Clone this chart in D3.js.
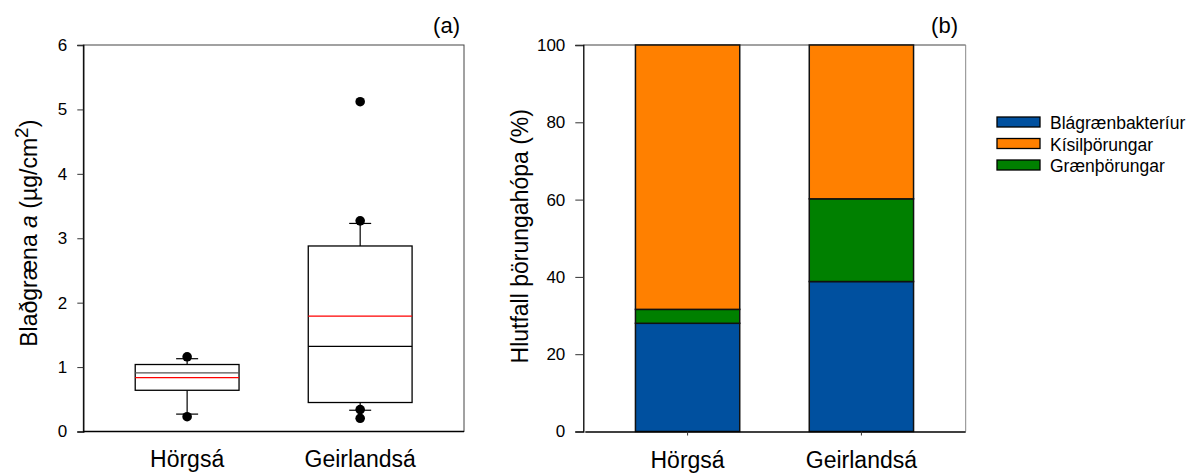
<!DOCTYPE html>
<html>
<head>
<meta charset="utf-8">
<script src="https://cdn.jsdelivr.net/npm/d3@7"></script>
<style>
  body { margin: 0; background: #fff; }
  svg { font-family: "Liberation Sans", Arial, sans-serif; }
</style>
</head>
<body>
<div id="chart"></div>
<script>
// --- Données ---
const sites = ["Hörgsá", "Geirlandsá"];

// (a) boîtes à moustaches : chlorophylle a (µg/cm2)
const boxQ1 = [0.64, 0.45];
const boxMedian = [0.91, 1.32];
const boxMean = [0.835, 1.79];
const boxQ3 = [1.04, 2.88];
const whiskerLow = [0.27, 0.33];
const whiskerHigh = [1.13, 3.23];
const outliers = [
  [1.16, 0.23],
  [5.12, 3.27, 0.34, 0.205]
];
const ticksA = [0, 1, 2, 3, 4, 5, 6];

// (b) barres empilées (%)
const groups = ["Blágrænbakteríur", "Kísilþörungar", "Grænþörungar"];
const blue = [28.0, 38.8];
const orange = [68.4, 39.8];
const green = [3.6, 21.4];
const ticksB = [0, 20, 40, 60, 80, 100];
const colors = { "Blágrænbakteríur": "#00509f", "Kísilþörungar": "#ff8000", "Grænþörungar": "#008000" };

const width = 1195, height = 474;
const svg = d3.select("#chart").append("svg")
  .attr("width", width).attr("height", height);

// ===== Panneau (a) =====
const A = { left: 83.3, right: 464, top: 45, bottom: 431.5 };
const xA = d3.scaleBand().domain(sites).range([A.left, A.right])
  .paddingInner(0.4).paddingOuter(0.3);
const yA = d3.scaleLinear().domain([0, 6]).range([A.bottom, A.top]);

const gA = svg.append("g");
// cadre
gA.append("rect")
  .attr("x", A.left).attr("y", A.top)
  .attr("width", A.right - A.left).attr("height", A.bottom - A.top)
  .attr("fill", "none").attr("stroke", "#444").attr("stroke-width", 1);

const axA = gA.append("g").attr("transform", `translate(${A.left},0)`)
  .call(d3.axisLeft(yA).tickValues(ticksA).tickSize(6).tickPadding(10).tickFormat(d3.format("d")));
axA.select(".domain").attr("stroke", "#000").attr("stroke-width", 1.3);
axA.selectAll("line").attr("stroke", "#333");
axA.selectAll("text").attr("font-size", 17).attr("fill", "#000").attr("font-family", "Liberation Sans, Arial, sans-serif");

gA.append("line")
  .attr("x1", A.left).attr("x2", A.right)
  .attr("y1", A.bottom).attr("y2", A.bottom)
  .attr("stroke", "#000").attr("stroke-width", 1.3);

sites.forEach((s, i) => {
  const x0 = xA(s), bw = xA.bandwidth(), cx = x0 + bw / 2;
  const g = gA.append("g");
  // moustaches
  g.append("line").attr("x1", cx).attr("x2", cx)
    .attr("y1", yA(boxQ3[i])).attr("y2", yA(whiskerHigh[i])).attr("stroke", "#000").attr("stroke-width", 1.2);
  g.append("line").attr("x1", cx).attr("x2", cx)
    .attr("y1", yA(boxQ1[i])).attr("y2", yA(whiskerLow[i])).attr("stroke", "#000").attr("stroke-width", 1.2);
  [whiskerHigh[i], whiskerLow[i]].forEach(v => {
    g.append("line").attr("x1", cx - 11).attr("x2", cx + 11)
      .attr("y1", yA(v)).attr("y2", yA(v)).attr("stroke", "#000").attr("stroke-width", 1.2);
  });
  // boîte
  g.append("rect").attr("x", x0).attr("width", bw)
    .attr("y", yA(boxQ3[i])).attr("height", yA(boxQ1[i]) - yA(boxQ3[i]))
    .attr("fill", "#fff").attr("stroke", "#000").attr("stroke-width", 1.3);
  // médiane
  g.append("line").attr("x1", x0).attr("x2", x0 + bw)
    .attr("y1", yA(boxMedian[i])).attr("y2", yA(boxMedian[i]))
    .attr("stroke", i === 0 ? "#555" : "#000").attr("stroke-width", 1.3);
  // moyenne
  g.append("line").attr("x1", x0).attr("x2", x0 + bw)
    .attr("y1", yA(boxMean[i])).attr("y2", yA(boxMean[i]))
    .attr("stroke", "#ff0000").attr("stroke-width", 1.2);
  // points extrêmes
  g.selectAll("circle").data(outliers[i]).enter().append("circle")
    .attr("cx", cx).attr("cy", d => yA(d)).attr("r", 4.8).attr("fill", "#000");
  // étiquette
  gA.append("text").attr("x", cx).attr("y", 466.5)
    .attr("text-anchor", "middle").attr("font-size", 23).text(s);
});

// titre axe y
const tA = gA.append("text")
  .attr("transform", `translate(37,${(A.top + A.bottom) / 2 - 5}) rotate(-90)`)
  .attr("text-anchor", "middle").attr("font-size", 23);
tA.append("tspan").text("Blaðgræna ");
tA.append("tspan").attr("font-style", "italic").text("a");
tA.append("tspan").text(" (µg/cm");
tA.append("tspan").attr("font-size", 19).attr("dy", -9).text("2");
tA.append("tspan").attr("dy", 9).text(")");

gA.append("text").attr("x", 460).attr("y", 33)
  .attr("text-anchor", "end").attr("font-size", 22).text("(a)");

// ===== Panneau (b) =====
const B = { left: 583.3, right: 965.7, top: 45, bottom: 431.5 };
const xB = d3.scaleBand().domain(sites).range([B.left, B.right])
  .paddingInner(0.4).paddingOuter(0.3);
const yB = d3.scaleLinear().domain([0, 100]).range([B.bottom, B.top]);

const gB = svg.append("g");
gB.append("line").attr("x1", B.left).attr("x2", B.right).attr("y1", B.top).attr("y2", B.top)
  .attr("stroke", "#444").attr("stroke-width", 1);
gB.append("line").attr("x1", B.right).attr("x2", B.right).attr("y1", B.top).attr("y2", B.bottom)
  .attr("stroke", "#888").attr("stroke-width", 1);

const table = sites.map((s, i) => ({
  site: s,
  "Blágrænbakteríur": blue[i],
  "Grænþörungar": green[i],
  "Kísilþörungar": orange[i]
}));
const stack = d3.stack().keys(["Blágrænbakteríur", "Grænþörungar", "Kísilþörungar"])(table);

gB.selectAll("g.layer").data(stack).enter().append("g").attr("class", "layer")
  .attr("fill", d => colors[d.key])
  .selectAll("rect").data(d => d).enter().append("rect")
  .attr("x", d => xB(d.data.site)).attr("width", xB.bandwidth())
  .attr("y", d => yB(d[1])).attr("height", d => yB(d[0]) - yB(d[1]))
  .attr("stroke", "#111").attr("stroke-width", 1.5);

const axB = gB.append("g").attr("transform", `translate(${B.left},0)`)
  .call(d3.axisLeft(yB).tickValues(ticksB).tickSize(8).tickPadding(10));
axB.select(".domain").attr("stroke", "#000").attr("stroke-width", 1.3);
axB.selectAll("line").attr("stroke", "#333");
axB.selectAll("text").attr("font-size", 17).attr("fill", "#000").attr("font-family", "Liberation Sans, Arial, sans-serif");

const axBx = gB.append("g").attr("transform", `translate(0,${B.bottom})`)
  .call(d3.axisBottom(xB).tickSize(4).tickFormat(""));
axBx.select(".domain").attr("d", `M${B.left + 2},0.5H${B.right}`).attr("stroke", "#000").attr("stroke-width", 1.3);
axBx.selectAll("line").attr("stroke", "#333");

sites.forEach(s => {
  gB.append("text").attr("x", xB(s) + xB.bandwidth() / 2).attr("y", 468)
    .attr("text-anchor", "middle").attr("font-size", 23).text(s);
});

gB.append("text")
  .attr("transform", `translate(528,${(B.top + B.bottom) / 2 - 2}) rotate(-90)`)
  .attr("text-anchor", "middle").attr("font-size", 23).text("Hlutfall þörungahópa (%)");

gB.append("text").attr("x", 958).attr("y", 33)
  .attr("text-anchor", "end").attr("font-size", 22).text("(b)");

// ===== Légende =====
const leg = svg.append("g").attr("transform", "translate(997,117)");
groups.forEach((k, i) => {
  const row = leg.append("g").attr("transform", `translate(0,${i * 21.5})`);
  row.append("rect").attr("width", 43).attr("height", 10)
    .attr("fill", colors[k]).attr("stroke", "#000").attr("stroke-width", 1.3);
  row.append("text").attr("x", 53).attr("y", 12).attr("font-size", 17.5).text(k);
});
</script>
</body>
</html>
